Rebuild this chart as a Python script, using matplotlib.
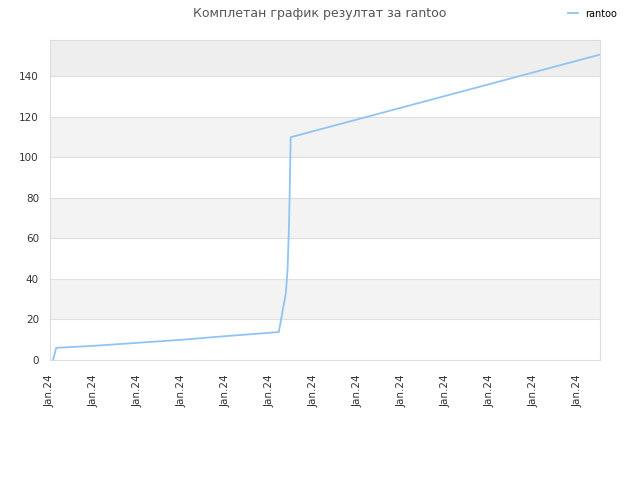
import matplotlib
matplotlib.use("Agg")
import matplotlib.pyplot as plt

# data (x in tick units, score values)
days = [0.07, 0.14, 1.0, 2.0, 3.0, 4.0, 5.2, 5.36, 5.4, 5.43, 5.45, 5.47, 12.5]
scores = [0, 6, 7, 8.5, 10, 11.8, 13.8, 33, 45, 65, 85, 110, 150.8]
tick_pos = list(range(13))
tick_labels = ["Jan.24"] * 13
yticks = [0, 20, 40, 60, 80, 100, 120, 140]

fig = plt.figure(figsize=(6.4, 4.8), dpi=100)
ax = fig.add_axes([50 / 640, 120 / 480, 550 / 640, 320 / 480])
ax.set_xlim(0, 12.5)
ax.set_ylim(0, 158)

# alternating bands
for lo in [20, 60, 100]:
    ax.axhspan(lo, lo + 20, color="#f3f3f3", zorder=0, lw=0)
ax.axhspan(140, 158, color="#eeeeee", zorder=0, lw=0)
for y in yticks[1:]:
    ax.axhline(y, color="#e0e0e0", lw=0.8, zorder=1)

ax.plot(days, scores, color="#90c4f4", lw=1.3, label="rantoo", zorder=3)

ax.set_xticks(tick_pos)
ax.set_xticklabels(tick_labels, rotation=90, fontsize=7.5, color="#333333")
ax.set_yticks(yticks)
ax.tick_params(axis="y", labelsize=7.5, colors="#333333", length=0, pad=8)
ax.tick_params(axis="x", length=0, pad=10)
for s in ax.spines.values():
    s.set_color("#dddddd")

fig.suptitle("Комплетан график резултат за rantoo", x=0.5, y=0.985,
             fontsize=9, color="#555555")
fig.legend(loc="upper right", bbox_to_anchor=(0.978, 1.0), frameon=False,
           fontsize=7, handlelength=1.0)
fig.savefig("out.png")
